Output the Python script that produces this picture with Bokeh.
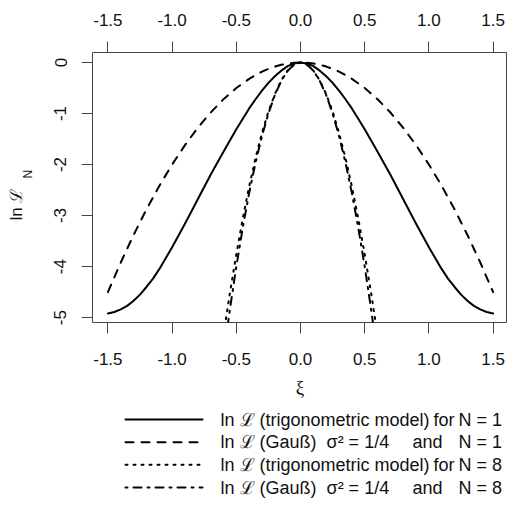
from bokeh.plotting import figure
from bokeh.models import Range1d, LinearAxis, FixedTicker, PrintfTickFormatter
from bokeh.layouts import column
from bokeh.embed import file_html
from bokeh.resources import INLINE
from bokeh.core.properties import value

# ---- data ----
xi_n1 = [-1.5, -1.45, -1.4, -1.35, -1.3, -1.25, -1.2, -1.15, -1.1, -1.0, -0.9, -0.8, -0.7, -0.6,
         -0.5, -0.4, -0.35, -0.3, -0.25, -0.2, -0.15, -0.1, -0.05, 0.0, 0.05, 0.1, 0.15, 0.2,
         0.25, 0.3, 0.35, 0.4, 0.5, 0.6, 0.7, 0.8, 0.9, 1.0, 1.1, 1.15, 1.2, 1.25, 1.3, 1.35,
         1.4, 1.45, 1.5]
trig_n1 = [-4.92, -4.89, -4.84, -4.77, -4.67, -4.55, -4.40, -4.24, -4.05, -3.62, -3.16, -2.68,
           -2.20, -1.75, -1.31, -0.90, -0.72, -0.55, -0.40, -0.27, -0.16, -0.07, -0.02, 0.0,
           -0.02, -0.07, -0.16, -0.27, -0.40, -0.55, -0.72, -0.90, -1.31, -1.75, -2.20, -2.68,
           -3.16, -3.62, -4.05, -4.24, -4.40, -4.55, -4.67, -4.77, -4.84, -4.89, -4.92]
gauss_n1 = [-4.50, -4.21, -3.92, -3.65, -3.38, -3.13, -2.88, -2.65, -2.42, -2.00, -1.62, -1.28,
            -0.98, -0.72, -0.50, -0.32, -0.245, -0.18, -0.125, -0.08, -0.045, -0.02, -0.005, 0.0,
            -0.005, -0.02, -0.045, -0.08, -0.125, -0.18, -0.245, -0.32, -0.50, -0.72, -0.98,
            -1.28, -1.62, -2.00, -2.42, -2.65, -2.88, -3.13, -3.38, -3.65, -3.92, -4.21, -4.50]

xi_n8 = [-0.6, -0.55, -0.5, -0.45, -0.4, -0.35, -0.3, -0.25, -0.2, -0.15, -0.1, -0.05, 0.0,
         0.05, 0.1, 0.15, 0.2, 0.25, 0.3, 0.35, 0.4, 0.45, 0.5, 0.55, 0.6]
trig_n8 = [-5.34, -4.52, -3.76, -3.06, -2.43, -1.87, -1.38, -0.96, -0.62, -0.35, -0.16, -0.04, 0.0,
           -0.04, -0.16, -0.35, -0.62, -0.96, -1.38, -1.87, -2.43, -3.06, -3.76, -4.52, -5.34]
gauss_n8 = [-5.76, -4.84, -4.00, -3.24, -2.56, -1.96, -1.44, -1.00, -0.64, -0.36, -0.16, -0.04, 0.0,
            -0.04, -0.16, -0.36, -0.64, -1.00, -1.44, -1.96, -2.56, -3.24, -4.00, -4.84, -5.76]

x_ticks = [-1.5, -1.0, -0.5, 0.0, 0.5, 1.0, 1.5]
y_ticks = [0, -1, -2, -3, -4, -5]

legend_first = ["ln \u2112 (trigonometric model)", "ln \u2112 (Gau\u00df)\u00a0\u00a0\u03c3\u00b2 = 1/4",
                "ln \u2112 (trigonometric model)", "ln \u2112 (Gau\u00df)\u00a0\u00a0\u03c3\u00b2 = 1/4"]
legend_mid = ["for", "and", "for", "and"]
legend_last = ["N = 1", "N = 1", "N = 8", "N = 8"]
legend_dash = ["solid", "8 8", "2 6", "2 6 8 6"]

FONT = "Liberation Sans"
AX_COL = "#444444"
TXT_COL = "#111111"
NB = "\u00a0"

p = figure(width=507, height=400, output_backend="svg", toolbar_location=None,
           x_range=Range1d(-1.62, 1.612), y_range=Range1d(-5.096, 0.196),
           x_axis_location=None, y_axis_location=None,
           min_border_left=92, min_border_right=0, min_border_top=52, min_border_bottom=78)
p.xgrid.visible = False
p.ygrid.visible = False
p.outline_line_color = AX_COL
p.outline_line_width = 1
p.background_fill_color = "white"
p.border_fill_color = "white"


def style_axis(ax, standoff, size="17px"):
    ax.axis_line_color = None
    ax.major_tick_line_color = AX_COL
    ax.major_tick_out = 11
    ax.major_tick_in = 0
    ax.minor_tick_line_color = None
    ax.major_label_text_font = FONT
    ax.major_label_text_font_size = size
    ax.major_label_text_color = TXT_COL
    ax.major_label_standoff = standoff


bx = LinearAxis(ticker=FixedTicker(ticks=x_ticks), formatter=PrintfTickFormatter(format="%.1f"))
style_axis(bx, 19)
bx.axis_label = "\u03be"
bx.axis_label_text_font = "Liberation Serif"
bx.axis_label_text_font_size = "19px"
bx.axis_label_text_font_style = "normal"
bx.axis_label_text_color = TXT_COL
bx.axis_label_standoff = 9
p.add_layout(bx, "below")

tx = LinearAxis(ticker=FixedTicker(ticks=x_ticks), formatter=PrintfTickFormatter(format="%.1f"))
style_axis(tx, 16)
p.add_layout(tx, "above")

ly = LinearAxis(ticker=FixedTicker(ticks=y_ticks), formatter=PrintfTickFormatter(format="%d"))
style_axis(ly, 15)
ly.major_label_orientation = "vertical"
p.add_layout(ly, "left")

# y-axis title "ln L" with subscript N
ytitle = LinearAxis(ticker=FixedTicker(ticks=[-2.785]), formatter=PrintfTickFormatter(format="ln \u2112"))
style_axis(ytitle, 25)
ytitle.major_tick_out = 0
ytitle.major_tick_line_color = None
ytitle.major_label_orientation = "vertical"
ytitle.axis_label = NB * 8 + "N"
ytitle.axis_label_text_font = FONT
ytitle.axis_label_text_font_size = "12px"
ytitle.axis_label_text_font_style = "normal"
ytitle.axis_label_text_color = TXT_COL
ytitle.axis_label_standoff = -30
p.add_layout(ytitle, "left")

p.line(xi_n1, trig_n1, line_color="black", line_width=2, line_cap="round", line_join="round")
p.line(xi_n1, gauss_n1, line_color="black", line_width=2, line_dash="8 8", line_cap="round")
p.line(xi_n8, trig_n8, line_color="black", line_width=2, line_dash="2 6", line_cap="round")
p.line(xi_n8, gauss_n8, line_color="black", line_width=2, line_dash="2 6 8 6", line_cap="round")

# legend panel: its frame spans page x 92..507, page y 400..502
lg = figure(width=507, height=102, output_backend="svg", toolbar_location=None,
            x_range=Range1d(92, 507), y_range=Range1d(502, 400),
            x_axis_location=None, y_axis_location=None,
            min_border_left=92, min_border_right=0, min_border_top=0, min_border_bottom=0)
lg.xgrid.visible = False
lg.ygrid.visible = False
lg.outline_line_color = None
lg.background_fill_color = "white"
lg.border_fill_color = "white"

row_y = [419, 441.7, 464.3, 487]
for i in range(4):
    lg.line([125, 202], [row_y[i], row_y[i]], line_color="black", line_width=2,
            line_dash=legend_dash[i], line_cap="round")
lg.text(x=[220] * 4, y=row_y, text=legend_first, text_font=value(FONT),
        text_font_size=value("18px"), text_baseline="middle", text_color=TXT_COL)
lg.text(x=[433, 412, 433, 412], y=row_y, text=legend_mid, text_font=value(FONT),
        text_font_size=value("18px"), text_baseline="middle", text_color=TXT_COL)
lg.text(x=[458] * 4, y=row_y, text=legend_last, text_font=value(FONT),
        text_font_size=value("18px"), text_baseline="middle", text_color=TXT_COL)

layout = column(p, lg, spacing=0)
open("out.html", "w").write(file_html(layout, INLINE))
